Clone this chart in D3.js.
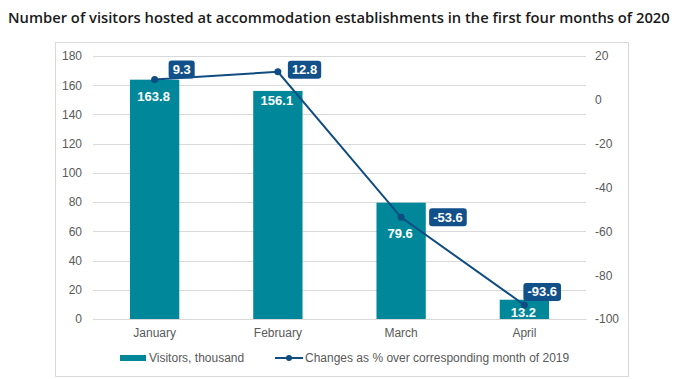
<!DOCTYPE html>
<html><head><meta charset="utf-8">
<script src="https://cdn.jsdelivr.net/npm/d3@7"></script>
<style>
body{margin:0;background:#fff;}
svg{display:block;}
</style></head>
<body>
<svg id="chart" width="681" height="379"></svg>
<script>
const months = ["January","February","March","April"];
const visitors = [163.8,156.1,79.6,13.2];
const changes = [9.3,12.8,-53.6,-93.6];
const leftTicks = [0,20,40,60,80,100,120,140,160,180];
const rightTicks = [20,0,-20,-40,-60,-80,-100];
const titleText = "Number of visitors hosted at accommodation establishments in the first four months of 2020";
const legendBar = "Visitors, thousand";
const legendLine = "Changes as % over corresponding month of 2019";

const svg = d3.select("#chart");
const W=681,H=379;
const m={left:93,right:586,top:56,bottom:319};
const barColor="#00879A", lineColor="#0F4C81", boxColor="#12508A", grid="#d9d9d9", axisText="#595959";
const font="'Liberation Sans', Arial, sans-serif";

// title
svg.append("text").attr("x",8).attr("y",23)
  .attr("font-family","'Open Sans', sans-serif").attr("font-weight",600)
  .attr("font-size",14.75).attr("fill","#1a1a1a").text(titleText);

// border
svg.append("rect").attr("x",55.5).attr("y",42.5).attr("width",573).attr("height",334)
  .attr("fill","none").attr("stroke","#d9d9d9");

const x = d3.scaleBand().domain(months).range([m.left,m.right]).paddingInner(0.6).paddingOuter(0.3);
const yL = d3.scaleLinear().domain([0,180]).range([m.bottom,m.top]);
const yR = d3.scaleLinear().domain([-100,20]).range([m.bottom,m.top]);

// gridlines
svg.append("g").selectAll("line").data(leftTicks).join("line")
  .attr("x1",m.left).attr("x2",m.right)
  .attr("y1",d=>Math.round(yL(d))+0.5).attr("y2",d=>Math.round(yL(d))+0.5)
  .attr("stroke",grid).attr("stroke-width",1);

// left axis
const gl = svg.append("g").attr("transform",`translate(${m.left},0)`)
  .call(d3.axisLeft(yL).tickValues(leftTicks).tickSize(0).tickPadding(11).tickFormat(d=>String(d)));
gl.select(".domain").remove();
gl.selectAll("text").attr("font-family",font).attr("font-size",12).attr("fill",axisText);

// right axis
const gr = svg.append("g").attr("transform",`translate(${m.right},0)`)
  .call(d3.axisRight(yR).tickValues(rightTicks).tickSize(0).tickPadding(9).tickFormat(d=>String(d)));
gr.select(".domain").remove();
gr.selectAll("text").attr("font-family",font).attr("font-size",12).attr("fill",axisText);

// bars
svg.append("g").selectAll("rect").data(visitors).join("rect")
  .attr("x",(d,i)=>x(months[i])).attr("width",x.bandwidth())
  .attr("y",d=>yL(d)).attr("height",d=>yL(0)-yL(d)).attr("fill",barColor);

// x axis
const gx = svg.append("g").attr("transform",`translate(0,${m.bottom})`)
  .call(d3.axisBottom(x).tickSize(0).tickPadding(9));
gx.select(".domain").attr("stroke","#d9d9d9");
gx.selectAll("text").attr("font-family",font).attr("font-size",12).attr("fill",axisText);

// bar labels (vertical offset inside bar top, layout)
const barLabelDy=[16,9,30,12];
svg.append("g").selectAll("text").data(visitors).join("text")
  .attr("x",(d,i)=>x(months[i])+x.bandwidth()/2-1)
  .attr("y",(d,i)=>yL(d)+barLabelDy[i]+5)
  .attr("text-anchor","middle").attr("font-family",font).attr("font-weight","bold")
  .attr("font-size",13).attr("fill","#fff").text(d=>d.toFixed(1));

// line
const cx=(i)=>x(months[i])+x.bandwidth()/2;
svg.append("path").datum(changes)
  .attr("d",d3.line().x((d,i)=>cx(i)).y(d=>yR(d)))
  .attr("fill","none").attr("stroke",lineColor).attr("stroke-width",2);
svg.append("g").selectAll("circle").data(changes).join("circle")
  .attr("cx",(d,i)=>cx(i)).attr("cy",d=>yR(d)).attr("r",3.5).attr("fill",lineColor);

// line labels (box offsets relative to point, layout)
const boxDx=[14,10,28,-1], boxDy=[-10,-2,0,-13];
const lg = svg.append("g").selectAll("g").data(changes).join("g");
lg.each(function(d,i){
  const g=d3.select(this);
  const t=g.append("text").attr("font-family",font).attr("font-weight","bold")
    .attr("font-size",13).attr("fill","#fff").text(d.toFixed(1));
  const w=t.node().getComputedTextLength()+8, h=18;
  const bx=cx(i)+boxDx[i], by=yR(d)+boxDy[i]-h/2;
  g.insert("rect","text").attr("x",bx).attr("y",by).attr("width",w).attr("height",h)
    .attr("rx",3).attr("fill",boxColor);
  t.attr("x",bx+4).attr("y",by+h/2+4.5);
});

// legend
const ly=358;
svg.append("rect").attr("x",120).attr("y",ly-3).attr("width",26).attr("height",6).attr("fill",barColor);
svg.append("text").attr("x",149).attr("y",ly+4).attr("font-family",font).attr("font-size",12)
  .attr("fill",axisText).text(legendBar);
svg.append("line").attr("x1",275).attr("x2",303).attr("y1",ly).attr("y2",ly)
  .attr("stroke",lineColor).attr("stroke-width",2);
svg.append("circle").attr("cx",289).attr("cy",ly).attr("r",3).attr("fill",lineColor);
svg.append("text").attr("x",305).attr("y",ly+4).attr("font-family",font).attr("font-size",12)
  .attr("fill",axisText).text(legendLine);
</script>
</body></html>
